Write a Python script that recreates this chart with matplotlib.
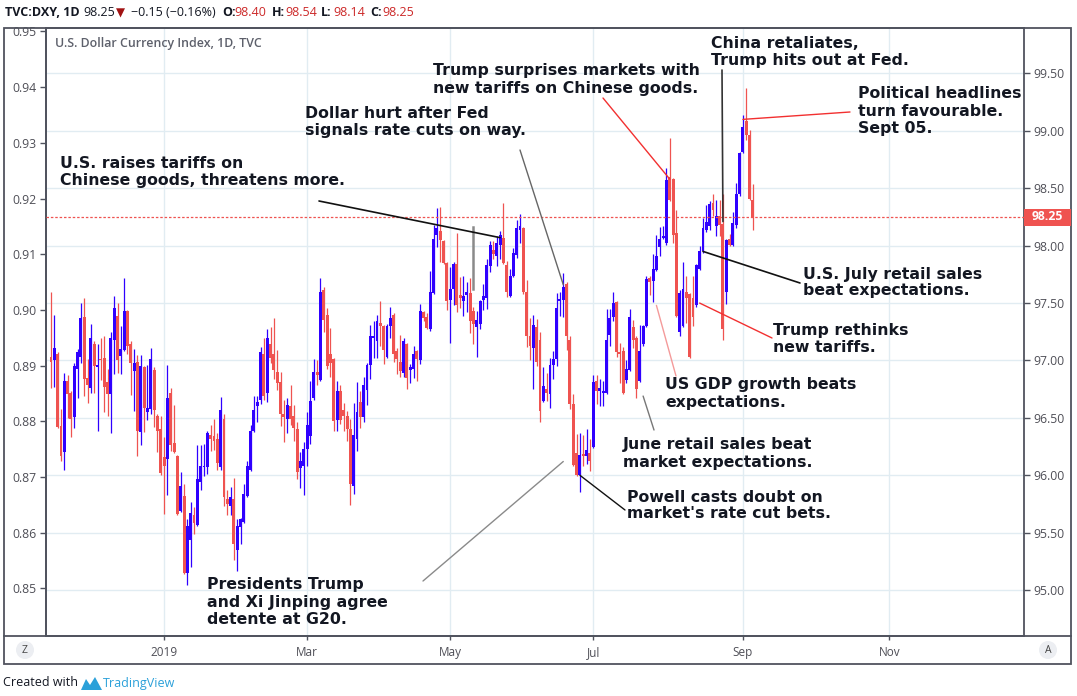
import numpy as np
import pandas as pd
import matplotlib
matplotlib.use("Agg")
import matplotlib.pyplot as plt
from matplotlib.patches import Rectangle, Circle, Polygon

# ---------------- data (DXY daily candles) ----------------
opens = [97.03, 97.00, 97.06, 96.43, 96.20, 96.82, 96.72, 96.51, 96.93, 97.03, 97.38, 96.85,
         96.76, 97.14, 96.94, 97.01, 97.02, 96.81, 96.71, 97.18, 97.39, 97.04, 97.09, 97.43,
         97.14, 96.91, 96.99, 96.38, 96.94, 96.55, 96.58, 96.92, 96.52, 96.40, 96.16, 96.14,
         96.72, 96.28, 96.17, 95.69, 95.82, 95.15, 95.44, 95.65, 95.57, 95.94, 96.07, 96.07,
         96.35, 96.34, 96.32, 96.07, 96.49, 95.79, 95.73, 95.79, 95.35, 95.55, 95.59, 95.82,
         96.05, 96.39, 96.60, 96.66, 97.06, 96.72, 97.14, 97.06, 96.90, 96.81, 96.53, 96.49,
         96.60, 96.52, 96.40, 96.06, 96.08, 96.23, 96.34, 96.67, 96.90, 96.83, 97.61, 97.40,
         97.06, 97.01, 96.48, 96.73, 96.57, 96.52, 96.40, 95.91, 96.32, 96.64, 96.51, 96.74,
         96.96, 97.20, 97.17, 97.33, 97.30, 97.03, 97.30, 97.40, 97.08, 96.99, 96.89, 97.14,
         96.92, 96.93, 97.08, 97.00, 97.42, 97.38, 97.27, 97.59, 98.09, 98.13, 98.04, 97.85,
         97.53, 97.62, 97.84, 97.57, 97.52, 97.57, 97.59, 97.43, 97.29, 97.32, 97.53, 97.54,
         97.82, 97.96, 97.91, 98.01, 98.07, 97.83, 97.56, 97.74, 97.92, 98.14, 98.15, 97.60,
         97.21, 97.11, 97.29, 97.18, 96.65, 96.75, 96.71, 96.96, 97.01, 97.52, 97.53, 97.67,
         97.18, 96.62, 96.19, 96.00, 96.18, 96.17, 96.19, 96.25, 96.82, 96.73, 96.72, 96.72,
         97.22, 97.38, 97.51, 97.07, 97.08, 96.83, 96.92, 97.29, 97.20, 96.82, 97.14, 97.30,
         97.72, 97.69, 97.79, 97.99, 98.07, 98.02, 98.60, 98.58, 98.11, 97.25, 97.30, 97.60,
         97.58, 97.54, 97.48, 97.80, 97.95, 98.14, 98.17, 98.37, 98.17, 98.26, 98.19, 97.60,
         98.06, 98.01, 98.18, 98.45, 98.82, 99.09, 98.96, 98.40]
highs = [97.60, 97.40, 97.07, 96.58, 96.89, 96.87, 96.73, 96.98, 97.10, 97.50, 97.54, 97.01,
         97.32, 97.17, 97.14, 97.20, 97.21, 96.93, 97.25, 97.56, 97.50, 97.30, 97.72, 97.44,
         97.17, 97.10, 97.05, 97.05, 96.95, 96.96, 97.11, 96.94, 96.53, 96.52, 96.33, 96.96,
         96.76, 96.61, 96.18, 96.03, 95.92, 95.62, 95.77, 95.72, 96.26, 96.26, 96.27, 96.39,
         96.44, 96.49, 96.37, 96.68, 96.53, 95.87, 95.90, 95.98, 95.62, 95.63, 95.92, 96.12,
         96.44, 96.69, 96.69, 97.12, 97.20, 97.27, 97.29, 97.37, 97.09, 96.90, 96.66, 96.67,
         96.79, 96.61, 96.46, 96.20, 96.29, 96.55, 96.82, 97.01, 97.00, 97.72, 97.64, 97.46,
         97.28, 97.02, 96.82, 96.79, 96.63, 96.56, 96.49, 96.63, 96.81, 96.73, 96.86, 96.98,
         97.31, 97.34, 97.40, 97.52, 97.31, 97.32, 97.47, 97.41, 97.11, 97.22, 97.20, 97.15,
         96.97, 97.13, 97.09, 97.49, 97.43, 97.41, 97.78, 98.18, 98.33, 98.34, 98.05, 97.86,
         97.81, 97.86, 98.11, 97.73, 97.74, 97.68, 97.72, 97.47, 97.43, 97.53, 97.67, 97.88,
         98.04, 98.04, 98.08, 98.13, 98.37, 97.87, 97.80, 97.98, 98.22, 98.28, 98.16, 97.70,
         97.37, 97.40, 97.36, 97.25, 96.94, 96.89, 97.02, 97.08, 97.59, 97.60, 97.76, 97.68,
         97.21, 96.71, 96.36, 96.37, 96.35, 96.40, 96.32, 96.87, 96.87, 96.84, 96.82, 97.45,
         97.45, 97.60, 97.52, 97.15, 97.12, 97.00, 97.45, 97.35, 97.21, 97.31, 97.31, 97.74,
         97.74, 97.93, 98.09, 98.16, 98.17, 98.68, 98.94, 98.59, 98.31, 97.61, 97.86, 97.74,
         97.59, 97.74, 97.84, 98.00, 98.24, 98.35, 98.39, 98.45, 98.40, 98.40, 98.45, 98.06,
         98.10, 98.29, 98.55, 98.82, 99.14, 99.37, 99.01, 98.54]
lows = [96.76, 96.77, 96.41, 96.12, 96.05, 96.50, 96.33, 96.41, 96.67, 96.98, 96.69, 96.63,
        96.72, 96.72, 96.39, 96.83, 96.55, 96.52, 96.37, 96.88, 96.89, 96.88, 97.08, 97.06,
        96.70, 96.56, 96.17, 96.26, 96.38, 96.48, 96.53, 96.42, 96.20, 96.00, 95.66, 95.83,
        96.21, 96.19, 95.65, 95.68, 95.14, 95.04, 95.20, 95.49, 95.56, 95.87, 95.99, 96.01,
        96.21, 96.22, 96.05, 96.05, 95.73, 95.65, 95.65, 95.26, 95.17, 95.40, 95.58, 95.81,
        96.04, 96.38, 96.46, 96.62, 96.66, 96.64, 96.98, 96.84, 96.74, 96.43, 96.29, 96.37,
        96.44, 96.30, 95.97, 95.89, 95.83, 96.08, 96.27, 96.66, 96.79, 96.82, 97.25, 96.93,
        96.86, 96.39, 96.39, 96.45, 96.39, 96.30, 95.74, 95.84, 96.21, 96.41, 96.46, 96.61,
        96.84, 97.02, 97.02, 97.13, 96.97, 97.02, 97.20, 96.99, 96.88, 96.86, 96.86, 96.75,
        96.80, 96.85, 96.82, 96.97, 97.34, 97.27, 97.26, 97.58, 97.99, 97.86, 97.84, 97.44,
        97.15, 97.48, 97.42, 97.46, 97.39, 97.42, 97.24, 97.14, 97.03, 97.27, 97.44, 97.45,
        97.77, 97.88, 97.82, 97.88, 97.84, 97.55, 97.55, 97.73, 97.89, 98.02, 97.58, 97.12,
        97.00, 96.75, 96.95, 96.46, 96.64, 96.65, 96.59, 96.84, 96.95, 97.39, 97.38, 97.09,
        96.58, 96.08, 95.99, 95.85, 96.08, 96.10, 96.04, 96.24, 96.62, 96.60, 96.60, 96.71,
        97.13, 97.34, 97.03, 96.80, 96.71, 96.80, 96.91, 97.11, 96.67, 96.81, 97.13, 97.29,
        97.57, 97.51, 97.78, 97.91, 98.06, 98.01, 98.39, 98.02, 97.38, 97.21, 97.29, 97.33,
        97.02, 97.30, 97.47, 97.79, 97.94, 98.12, 98.14, 98.26, 98.08, 98.08, 97.18, 97.49,
        98.00, 98.00, 98.15, 98.43, 98.81, 98.92, 98.40, 98.14]
closes = [96.99, 97.11, 96.42, 96.17, 96.82, 96.71, 96.49, 96.95, 97.07, 97.37, 96.84, 96.79,
          97.20, 96.95, 96.96, 97.00, 96.77, 96.71, 97.20, 97.46, 97.00, 97.10, 97.43, 97.13,
          96.98, 96.98, 96.39, 96.95, 96.59, 96.59, 97.01, 96.57, 96.39, 96.02, 96.08, 96.67,
          96.26, 96.20, 95.66, 95.91, 95.15, 95.56, 95.67, 95.58, 95.97, 96.08, 96.08, 96.37,
          96.32, 96.30, 96.11, 96.57, 95.81, 95.75, 95.81, 95.40, 95.56, 95.62, 95.84, 96.08,
          96.39, 96.57, 96.64, 97.07, 96.69, 97.20, 97.02, 96.92, 96.80, 96.53, 96.51, 96.61,
          96.49, 96.41, 96.03, 96.12, 96.23, 96.44, 96.65, 96.90, 96.87, 97.60, 97.35, 96.95,
          96.98, 96.47, 96.73, 96.48, 96.52, 96.40, 95.92, 96.35, 96.55, 96.51, 96.79, 96.96,
          97.21, 97.21, 97.34, 97.30, 97.09, 97.30, 97.37, 97.06, 97.01, 96.91, 97.17, 96.85,
          96.94, 97.06, 97.01, 97.43, 97.37, 97.28, 97.60, 98.06, 98.15, 98.05, 97.85, 97.52,
          97.62, 97.84, 97.48, 97.54, 97.56, 97.60, 97.34, 97.32, 97.35, 97.52, 97.56, 97.83,
          98.01, 97.93, 98.02, 98.09, 97.85, 97.60, 97.74, 97.94, 98.15, 98.17, 97.60, 97.21,
          97.13, 97.31, 96.99, 96.56, 96.78, 96.72, 96.96, 97.01, 97.46, 97.53, 97.64, 97.21,
          96.62, 96.09, 96.00, 96.18, 96.17, 96.22, 96.12, 96.81, 96.73, 96.76, 96.73, 97.18,
          97.37, 97.50, 97.07, 97.06, 96.72, 96.93, 97.38, 97.18, 96.75, 97.08, 97.30, 97.71,
          97.68, 97.80, 97.91, 98.06, 98.08, 98.57, 98.40, 98.09, 97.39, 97.59, 97.62, 97.54,
          97.03, 97.38, 97.83, 97.95, 98.15, 98.21, 98.36, 98.31, 98.26, 98.18, 97.27, 98.05,
          98.01, 98.20, 98.45, 98.81, 99.03, 98.96, 98.41, 98.25]
last_date = "2019-09-05"
last_price = 98.25
month_ticks = ["2019-01-01", "2019-03-01", "2019-05-01", "2019-07-01", "2019-09-02", "2019-11-01"]
month_labels = ["2019", "Mar", "May", "Jul", "Sep", "Nov"]
right_ticks = [95.0, 95.5, 96.0, 96.5, 97.0, 97.5, 98.0, 98.5, 99.0, 99.5]
left_ticks = [0.85, 0.86, 0.87, 0.88, 0.89, 0.90, 0.91, 0.92, 0.93, 0.94, 0.95]

# annotations: text lines, text position (px), line start (px), tip (date, price), colour
annotations = [
    (["U.S. raises tariffs on", "Chinese goods, threatens more."], (60, 163), (319, 201), ("2019-05-22", 98.07), "#111111", 1.2),
    (["Dollar hurt after Fed", "signals rate cuts on way."], (305, 113), (520, 150), ("2019-06-18", 97.66), "#666666", 1.0),
    (["Trump surprises markets with", "new tariffs on Chinese goods."], (433, 71), (603, 98), ("2019-08-01", 98.58), "#f23030", 1.0),
    (["China retaliates,", "Trump hits out at Fed."], (711, 44), (722, 70), ("2019-08-23", 98.21), "#333333", 1.2),
    (["Political headlines", "turn favourable.", "Sept 05."], (858, 94), (850, 112), ("2019-09-02", 99.10), "#f23030", 1.0),
    (["U.S. July retail sales", "beat expectations."], (803, 274), (800, 283), ("2019-08-15", 97.95), "#111111", 1.2),
    (["Trump rethinks", "new tariffs."], (773, 331), (772, 338), ("2019-08-14", 97.50), "#f23030", 1.0),
    (["US GDP growth beats", "expectations."], (665, 385), (676, 376), ("2019-07-26", 97.48), "#f49a9a", 1.0),
    (["June retail sales beat", "market expectations."], (623, 445), (654, 430), ("2019-07-22", 96.69), "#777777", 1.0),
    (["Powell casts doubt on", "market's rate cut bets."], (627, 497), (625, 510), ("2019-06-25", 96.00), "#111111", 1.0),
    (["Presidents Trump", "and Xi Jinping agree", "detente at G20."], (207, 585), (423, 581), ("2019-06-18", 96.12), "#8a8a8a", 1.0),
]

BLUE = "#2f00ff"
RED = "#ef5350"
FRAME = "#50535e"
TXT = "#131722"
AXT = "#4f4f57"
GRID = "#e1ecf2"
FONT = ["Open Sans", "DejaVu Sans"]
plt.rcParams["font.family"] = FONT

W, H = 1077, 696
L, R, T, B = 46, 1024, 28, 636
fig = plt.figure(figsize=(W / 100, H / 100), dpi=100)
fig.patch.set_facecolor("white")


def bidx(d):
    return np.busday_count(np.datetime64("2019-01-01"), np.datetime64(d, "D"))


ax = fig.add_axes([L / W, 1 - B / H, (R - L) / W, (B - T) / H])
dates = pd.bdate_range(end=last_date, periods=len(opens))
x = np.busday_count(np.datetime64("2019-01-01"), dates.values.astype("datetime64[D]"))
o, hi, lo, c = (np.array(v) for v in (opens, highs, lows, closes))
up = c >= o
col = np.where(up, BLUE, RED)

ax.set_xlim(-35.5, 258.5)
ax.set_ylim(94.600, 99.896)

mt = [bidx(d) for d in month_ticks]
for v in right_ticks:
    ax.axhline(v, color=GRID, lw=1.0, zorder=0)
for v in mt:
    ax.axvline(v, color=GRID, lw=1.0, zorder=0)

ax.vlines(x, lo, hi, colors=col, lw=0.9, zorder=2)
ax.bar(x, np.maximum(np.abs(c - o), 0.012), bottom=np.minimum(o, c), width=0.88,
       color=col, linewidth=0, zorder=3, antialiased=False)

ax.axhline(last_price, color=RED, lw=0.9, ls=(0, (2, 1.5)), zorder=4)
ax.plot([92.8, 92.8], [98.166, 97.62], color="#8a8a8a", lw=1.8, zorder=5)

# axes styling
for s in ax.spines.values():
    s.set_color(FRAME)
    s.set_linewidth(1.3)
ax.yaxis.tick_right()
ax.set_yticks(right_ticks)
ax.set_yticklabels([f"{v:.2f}" for v in right_ticks])
ax.tick_params(axis="y", direction="out", length=4, width=1, color=FRAME,
               labelsize=8.8, labelcolor=AXT, pad=3)
ax.set_xticks(mt)
ax.set_xticklabels(month_labels)
ax.tick_params(axis="x", direction="out", length=3, width=1, color=FRAME,
               labelsize=8.5, labelcolor=AXT, pad=4)

k = 0.020610
sec = ax.secondary_yaxis("left", functions=(lambda v: 0.911544 - (98 - v) * k,
                                             lambda u: 98 - (0.911544 - u) / k))
sec.set_yticks(left_ticks)
sec.set_yticklabels([f"{v:.2f}" for v in left_ticks])
sec.tick_params(direction="out", length=4, width=1, color=FRAME, labelsize=8.8,
                labelcolor=AXT, pad=3)
sec.spines["left"].set_color(FRAME)
sec.spines["left"].set_linewidth(1.3)

# annotation lines (tip in data coords, start in figure pixels)
for lines, tpos, start, tip, lc, lw in annotations:
    ax.annotate("", xy=(bidx(tip[0]) + 0.0, tip[1]), xycoords="data",
                xytext=(start[0], H - start[1]), textcoords="figure pixels",
                arrowprops=dict(arrowstyle="-", color=lc, lw=lw, shrinkA=0, shrinkB=0),
                annotation_clip=False, zorder=6)

# overlay in pixel coordinates
ov = fig.add_axes([0, 0, 1, 1], zorder=10)
ov.set_xlim(0, W)
ov.set_ylim(H, 0)
ov.axis("off")

ov.add_patch(Rectangle((4, 28), 1067, 636, fill=False, ec=FRAME, lw=1.3))
ov.plot([4, 1071], [B, B], color=FRAME, lw=1.3)

# annotation text; font size fitted so that a reference line has the measured width
ANN_FONT = ["DejaVu Sans"]
renderer = fig.canvas.get_renderer()
probe = ov.text(0, 0, "Chinese goods, threatens more.", fontsize=10, fontweight="bold",
                family=ANN_FONT)
pw = probe.get_window_extent(renderer).width
probe.remove()
ann_size = 10 * 286.0 / pw

for lines, tpos, start, tip, lc, lw in annotations:
    for j, t in enumerate(lines):
        ov.text(tpos[0], tpos[1] + 17 * j, t, fontsize=ann_size, fontweight="bold",
                color=TXT, va="center", ha="left", family=ANN_FONT)

ov.text(55, 43, "U.S. Dollar Currency Index, 1D, TVC", fontsize=8.9, fontweight="semibold",
        color="#5d606b", va="center", ha="left")

# price label
ov.add_patch(Rectangle((1024, 208.5), 47, 17, color=RED, lw=0))
ov.text(1047.5, 217, f"{last_price:.2f}", fontsize=8.8, fontweight="bold", color="white",
        va="center", ha="center")

# Z / A buttons
for cx, t in [(25, "Z"), (1048, "A")]:
    ov.add_patch(Circle((cx, 650), 9, color="#eceef2", lw=0))
    ov.text(cx, 650.5, t, fontsize=7.5, color="#444", va="center", ha="center")

# header
hy = 13
ov.text(5, hy, "TVC:DXY, 1D", fontsize=9, fontweight="bold", color=TXT, va="center")
ov.text(83, hy, "98.25", fontsize=9, color=TXT, va="center")
ov.text(116, hy + 0.5, "\u25BC", fontsize=8.5, color="#a11212", va="center", family=["DejaVu Sans"])
ov.text(131, hy, "\u22120.15 (\u22120.16%)", fontsize=9, color=TXT, va="center")
hdr = [(222, "O:", 234, "98.40"), (272, "H:", 285, "98.54"), (321, "L:", 333, "98.14"),
       (370, "C:", 382, "98.25")]
for lx, lt, vx, vt in hdr:
    ov.text(lx, hy, lt, fontsize=9, fontweight="bold", color=TXT, va="center")
    ov.text(vx, hy, vt, fontsize=9, color="#cc2929", va="center")

# footer
ov.text(3, 683, "Created with", fontsize=9, color=TXT, va="center")
ov.add_patch(Polygon([(81, 690), (86, 679), (90, 685), (95, 677), (102, 690)],
                     closed=True, color="#2ba0d9", lw=0))
ov.text(103, 683, "TradingView", fontsize=9, color="#2ba0d9", va="center")

fig.savefig("out.png", dpi=100, facecolor="white")
